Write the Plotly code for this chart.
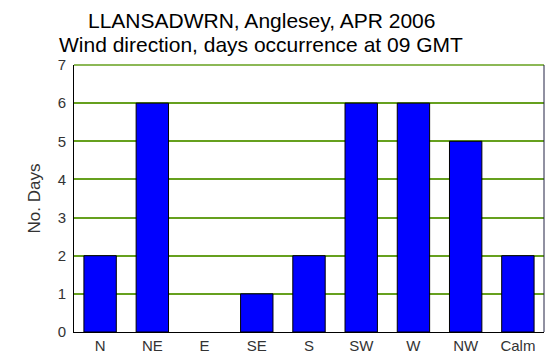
import plotly.graph_objects as go

categories = ["N", "NE", "E", "SE", "S", "SW", "W", "NW", "Calm"]
days = [2, 6, 0, 1, 2, 6, 6, 5, 2]
y_ticks = [0, 1, 2, 3, 4, 5, 6, 7]
title_lines = ["LLANSADWRN, Anglesey, APR 2006", "Wind direction, days occurrence at 09 GMT"]

# page body has an 8px default margin; size the figure so the plot lands where the reference has it
fig = go.Figure()
fig.add_trace(go.Bar(
    x=categories, y=days,
    marker=dict(color="#0000ff",
                line=dict(color="#000000", width=[1 if d > 0 else 0 for d in days])),
    width=0.62,
))

fig.update_layout(
    template="none",
    width=551, height=355,
    margin=dict(l=66, r=15, t=57, b=31, autoexpand=False),
    paper_bgcolor="white", plot_bgcolor="white",
    showlegend=False,
    font=dict(family="Liberation Sans, Arial, sans-serif", color="#333333"),
    xaxis=dict(
        type="category", range=[-0.5, 8.5], automargin=False,
        showgrid=False, showline=True, linecolor="#000000", linewidth=1,
        mirror=False, ticks="", tickfont=dict(size=15, color="#333333"),
    ),
    yaxis=dict(
        range=[0, 7], tickvals=y_ticks, automargin=False,
        showgrid=True, gridcolor="rgb(102,160,30)", gridwidth=1.6,
        showline=True, linecolor="#000000", linewidth=1,
        ticks="", ticklabelstandoff=4, tickfont=dict(size=15, color="#333333"),
        title=dict(text="No. Days", font=dict(size=17, color="#333333"), standoff=12),
        zeroline=False,
    ),
)
for txt, shift in zip(title_lines, [45, 21]):
    fig.add_annotation(text=txt, xref="paper", yref="paper", x=0.398, y=1,
                       xanchor="center", yanchor="middle", yshift=shift,
                       showarrow=False, font=dict(size=21, color="#000000"))
# top border (green, like the gridlines) and right border line
fig.add_shape(type="line", xref="paper", yref="paper", x0=0, x1=1, y0=1, y1=1,
              line=dict(color="rgb(102,160,30)", width=1.6))
fig.add_shape(type="line", xref="paper", yref="paper", x0=1, x1=1, y0=0, y1=1,
              line=dict(color="#222244", width=1))

fig.write_html("out.html")
